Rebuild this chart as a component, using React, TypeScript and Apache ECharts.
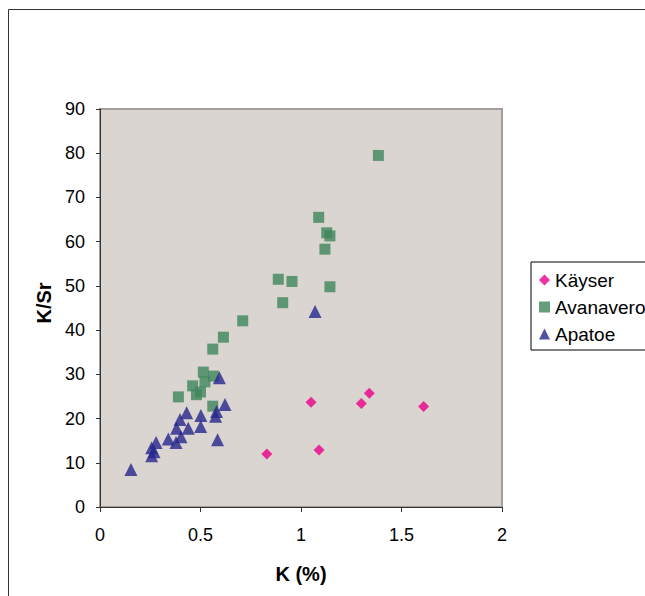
import React, { useEffect, useRef } from "react";
import * as echarts from "echarts";

const seriesNames = ["Käyser", "Avanavero", "Apatoe"];
const seriesColors = ["#e8008a", "#3e865b", "#26268c"];
const seriesSymbols = ["diamond", "rect", "triangle"];
const seriesSizes = [11, 11, 13];

const kayserK = [0.83, 1.09, 1.05, 1.3, 1.34, 1.61];
const kayserKSr = [12.0, 12.9, 23.7, 23.4, 25.7, 22.7];

const avanaveroK = [1.385, 1.088, 1.128, 1.144, 1.119, 0.887, 0.955, 1.144, 0.909, 0.71, 0.614, 0.561, 0.514, 0.564, 0.522, 0.461, 0.5, 0.48, 0.39, 0.561];
const avanaveroKSr = [79.5, 65.5, 62.0, 61.3, 58.3, 51.5, 51.0, 49.8, 46.2, 42.1, 38.4, 35.7, 30.5, 29.6, 28.3, 27.4, 26.0, 25.4, 24.9, 22.8];

const apatoeK = [1.07, 0.594, 0.622, 0.58, 0.575, 0.585, 0.431, 0.502, 0.398, 0.501, 0.439, 0.381, 0.403, 0.34, 0.378, 0.279, 0.257, 0.269, 0.257, 0.154];
const apatoeKSr = [44.2, 29.2, 23.2, 21.6, 20.5, 15.2, 21.3, 20.7, 19.8, 18.2, 17.8, 17.8, 15.9, 15.4, 14.6, 14.6, 13.4, 12.5, 11.6, 8.5];

const xTitle = "K (%)";
const yTitle = "K/Sr";

const allX = [kayserK, avanaveroK, apatoeK];
const allY = [kayserKSr, avanaveroKSr, apatoeKSr];

export default function App() {
  const ref = useRef<HTMLDivElement>(null);
  useEffect(() => {
    if (!ref.current) return;
    const chart = echarts.init(ref.current, undefined, { renderer: "svg" });
    const font = "Liberation Sans, Arial, sans-serif";
    chart.setOption({
      animation: false,
      backgroundColor: "#ffffff",
      textStyle: { fontFamily: font },
      graphic: [
        {
          type: "rect",
          shape: { x: 8.5, y: 9.5, width: 800, height: 800 },
          style: { fill: "none", stroke: "#333", lineWidth: 1 },
          silent: true,
          z: 0,
        },
      ],
      grid: {
        left: 100,
        top: 109,
        width: 402,
        height: 398,
        show: true,
        backgroundColor: "#dad5d1",
        borderColor: "#a59e9b",
        borderWidth: 2,
      },
      legend: {
        orient: "vertical",
        left: 531,
        top: 262,
        borderColor: "#000",
        borderWidth: 1,
        borderRadius: 0,
        padding: [8, 60, 6, 8],
        itemWidth: 11,
        itemHeight: 11,
        itemGap: 7,
        textStyle: { fontSize: 19, color: "#000", fontFamily: font, lineHeight: 20 },
        data: seriesNames.map((n, i) => ({ name: n, icon: seriesSymbols[i] })),
      },
      xAxis: {
        type: "value",
        min: 0,
        max: 2,
        interval: 0.5,
        name: xTitle,
        nameLocation: "middle",
        nameGap: 57,
        nameTextStyle: { fontSize: 20, fontWeight: "bold", color: "#000" },
        axisLine: { show: true, onZero: false, lineStyle: { color: "#333", width: 1 } },
        axisTick: { show: true, length: 5, lineStyle: { color: "#333" } },
        axisLabel: { fontSize: 18, color: "#000", margin: 19 },
        splitLine: { show: false },
      },
      yAxis: {
        type: "value",
        min: 0,
        max: 90,
        interval: 10,
        name: yTitle,
        nameLocation: "middle",
        nameGap: 45,
        nameTextStyle: { fontSize: 20, fontWeight: "bold", color: "#000", padding: [0, 0, 0, 10] },
        axisLine: { show: true, onZero: false, lineStyle: { color: "#333", width: 1 } },
        axisTick: { show: true, length: 4, lineStyle: { color: "#333" } },
        axisLabel: { fontSize: 18, color: "#000", margin: 15 },
        splitLine: { show: false },
      },
      series: seriesNames.map((n, i) => ({
        name: n,
        type: "scatter",
        symbol: seriesSymbols[i],
        symbolSize: seriesSizes[i],
        itemStyle: { color: seriesColors[i] },
        data: allX[i].map((x, j) => [x, allY[i][j]]),
      })),
    });
    return () => chart.dispose();
  }, []);
  return (
    <div
      ref={ref}
      style={{ position: "fixed", left: 0, top: 0, width: 645, height: 596 }}
    />
  );
}
